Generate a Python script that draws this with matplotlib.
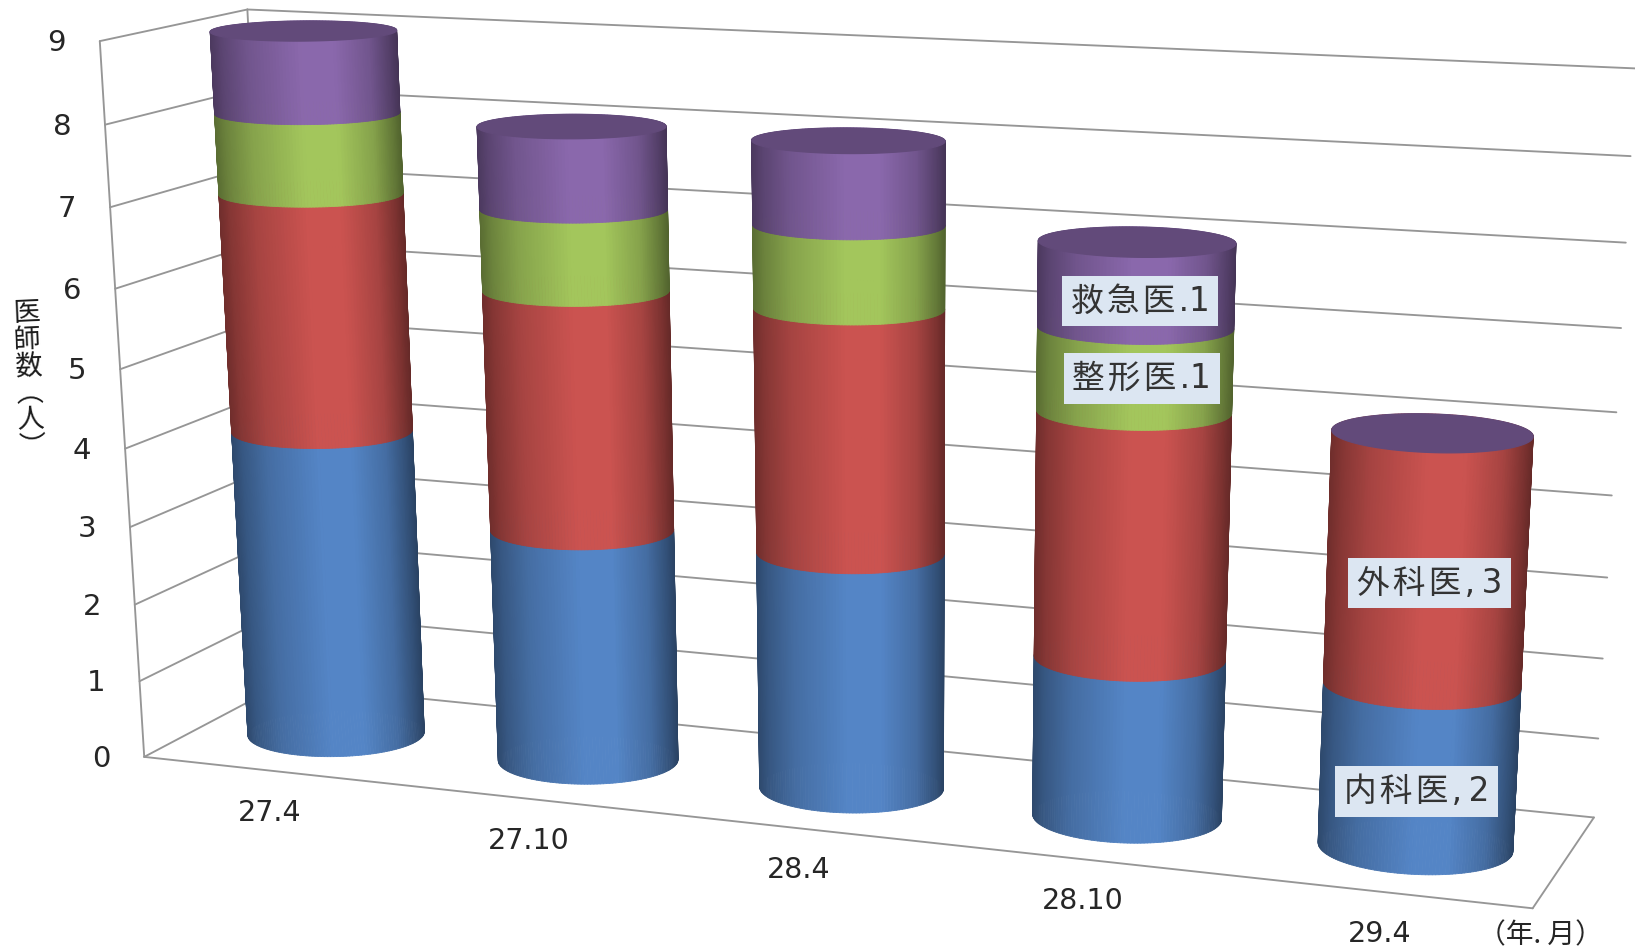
import numpy as np
import matplotlib
matplotlib.use("Agg")
import matplotlib.pyplot as plt
from matplotlib.collections import PolyCollection

# doctors per survey date, stacked bottom to top
months = ["27.4", "27.10", "28.4", "28.10", "29.4"]
internal = [4, 3, 3, 2, 2]
surgery = [3, 3, 3, 3, 3]
ortho = [1, 1, 1, 1, 0]
emergency = [1, 1, 1, 1, 0]
y_ticks = [0, 1, 2, 3, 4, 5, 6, 7, 8, 9]

colors = [(84, 133, 198), (203, 83, 80), (163, 198, 92), (138, 104, 172)]
cap_color = "#624a7a"
grid_color = "#969696"
label_bg = "#dce6f2"
cjk = ["DejaVu Sans", "Noto Sans CJK JP"]

# box corners on the canvas, used to solve the camera: (x, depth, value/9) -> pixel
box_world = [(0, 0, 0), (1, 0, 0), (1, 1, 0), (0, 1, 0), (0, 1, 1), (1, 1, 1), (0, 0, 1)]
box_pixels = [(139, 759), (1533, 906), (1593, 820), (287, 682), (242, 10), (1636, 68), (105, 41)]


def solve_camera(world, pixels):
    rows = []
    for (X, Y, Z), (u, v) in zip(world, pixels):
        rows.append([X, Y, Z, 1, 0, 0, 0, 0, -u * X, -u * Y, -u * Z, -u])
        rows.append([0, 0, 0, 0, X, Y, Z, 1, -v * X, -v * Y, -v * Z, -v])
    return np.linalg.svd(np.array(rows, dtype=float))[2][-1].reshape(3, 4)


cam = solve_camera(box_world, box_pixels)


def proj(x, d, val):
    x, d, val = np.broadcast_arrays(x, d, val)
    p = cam @ np.stack([x, d, val / 9.0, np.ones_like(x, dtype=float)])
    return p[0] / p[2], p[1] / p[2]


fig = plt.figure(figsize=(16.35, 9.5), dpi=100)
ax = fig.add_axes([0, 0, 1, 1])
ax.set_xlim(0, 1635)
ax.set_ylim(950, 0)
ax.axis("off")


def line3d(a, b):
    xa, ya = proj(*a)
    xb, yb = proj(*b)
    ax.plot([xa, xb], [ya, yb], color=grid_color, lw=1.35, zorder=1, solid_capstyle="round")


# walls and floor
for v in y_ticks:
    line3d((0, 0, v), (0, 1, v))
    line3d((0, 1, v), (1, 1, v))
line3d((0, 0, 0), (0, 0, 9))
line3d((0, 1, 0), (0, 1, 9))
line3d((0, 0, 0), (1, 0, 0))
line3d((1, 0, 0), (1, 1, 0))

# cylinder footprint in box units
rad_x = 0.0645
rad_d = 0.29
mid_d = 0.49
theta = np.linspace(0, 2 * np.pi, 181)


def shade(base, t):
    k = np.interp(t, [0, 0.06, 0.2, 0.48, 0.66, 0.85, 0.96, 1], [0.55, 0.66, 0.82, 1.0, 1.0, 0.82, 0.6, 0.5])
    return np.clip(np.outer(k, base) / 255.0, 0, 1)


def draw_segment(xc, v0, v1, base, z):
    cx = xc + rad_x * np.cos(theta)
    cd = mid_d + rad_d * np.sin(theta)
    xb, yb = proj(cx, cd, v0)
    xt, yt = proj(cx, cd, v1)
    polys = []
    t_vals = []
    # strips back to front so the near side covers the far side
    order = np.argsort(-(cd[:-1] + cd[1:]))
    for i in order:
        polys.append([(xb[i], yb[i]), (xb[i + 1], yb[i + 1]), (xt[i + 1], yt[i + 1]), (xt[i], yt[i])])
        t_vals.append((0.5 * (xb[i] + xb[i + 1]) - xb.min()) / (xb.max() - xb.min()))
    cols = shade(base, np.array(t_vals))
    ax.add_collection(PolyCollection(polys, facecolors=cols, edgecolors=cols, linewidths=0.6, zorder=z))


stacks = [internal, surgery, ortho, emergency]
for i, name in enumerate(months):
    xc = (i + 0.5) / len(months) + 0.0005
    bottom = 0
    for j, series in enumerate(stacks):
        if series[i] > 0:
            draw_segment(xc, bottom, bottom + series[i], colors[j], 3 + j)
            bottom += series[i]
    cap_x, cap_y = proj(xc + rad_x * np.cos(theta), mid_d + rad_d * np.sin(theta), bottom)
    # outline in the cap colour hides the far strips poking past the rim
    ax.fill(cap_x, cap_y, fc=cap_color, ec=cap_color, lw=0.9, zorder=8)

    lx, ly = proj(xc, 0, 0)
    ax.text(lx, ly + 42, name, fontsize=20.5, color="#262626", ha="center", va="center",
            family="DejaVu Sans", zorder=9)

for v in y_ticks:
    tx, ty = proj(0, 0, v)
    ax.text(tx - 43, ty + 2, str(v), fontsize=21, color="#262626", ha="center", va="center",
            family="DejaVu Sans", zorder=9)


def value_label(i, name, sep, stack_idx, dx, dy):
    xc = (i + 0.5) / len(months)
    low = sum(s[i] for s in stacks[:stack_idx])
    val = stacks[stack_idx][i]
    px, py = proj(xc, 0.25, low + val * 0.5)
    # hair spaces open up the kanji the way the wide label font does
    text = "\u200a".join(name) + "\u200a" + sep + str(val)
    ax.text(px + dx, py + dy, text, fontsize=23.5, color="#333333", ha="center", va="center",
            family=cjk, zorder=10,
            bbox=dict(boxstyle="square,pad=0.27", fc=label_bg, ec="none"))


value_label(3, "救急医", ".", 3, 27, 4)
value_label(3, "整形医", ".", 2, 30, -5)
value_label(4, "外科医", ",\u2009", 1, 21, 6)
value_label(4, "内科医", ",\u2009", 0, 16, 5)

# vertical axis title, stacked glyphs leaning with the wall edge
ax.text(29, 380, "医\n師\n数\n\ufe35\n人\n\ufe36", fontsize=19.5, color="#1a1a1a", ha="center", va="center",
        multialignment="center", rotation=2.5, linespacing=1.0, family=["Noto Sans CJK JP", "DejaVu Sans"], zorder=9)

ax.text(1540, 935, "（年. 月）", fontsize=20, color="#262626", ha="center", va="center",
        family=["Noto Sans CJK JP", "DejaVu Sans"], zorder=9)

fig.savefig("out.png", dpi=100, facecolor="white")
